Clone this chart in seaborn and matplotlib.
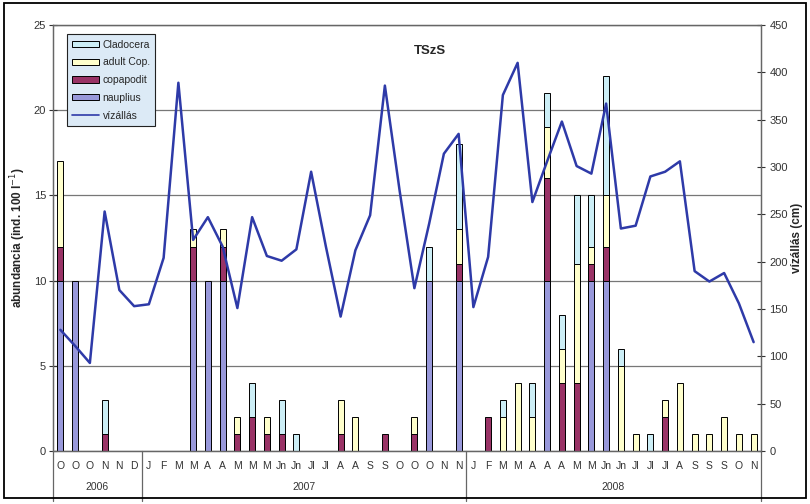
import numpy as np
import pandas as pd
import seaborn as sns
import matplotlib
matplotlib.use("Agg")
import matplotlib.pyplot as plt
from matplotlib.patches import Patch, Rectangle
from matplotlib.lines import Line2D

# ---------------- data ----------------
months_2006 = ["O", "O", "O", "N", "N", "D"]
months_2007 = ["J", "F", "M", "M", "A", "A", "M", "M", "M", "Jn", "Jn", "Jl", "Jl",
               "A", "A", "S", "S", "O", "O", "O", "N", "N"]
months_2008 = ["J", "F", "M", "M", "A", "A", "A", "M", "M", "Jn", "Jn", "Jl", "Jl", "Jl",
               "A", "S", "S", "S", "O", "N"]
years = ["2006", "2007", "2008"]

nauplius = ([10, 10, 0, 0, 0, 0]
            + [0, 0, 0, 10, 10, 10, 0, 0, 0, 0, 0, 0, 0, 0, 0, 0, 0, 0, 0, 10, 0, 10]
            + [0, 0, 0, 0, 0, 10, 0, 0, 10, 10, 0, 0, 0, 0, 0, 0, 0, 0, 0, 0])
copepodit = ([2, 0, 0, 1, 0, 0]
             + [0, 0, 0, 2, 0, 2, 1, 2, 1, 1, 0, 0, 0, 1, 0, 0, 1, 0, 1, 0, 0, 1]
             + [0, 2, 0, 0, 0, 6, 4, 4, 1, 2, 0, 0, 0, 2, 0, 0, 0, 0, 0, 0])
adult_cop = ([5, 0, 0, 0, 0, 0]
             + [0, 0, 0, 1, 0, 1, 1, 0, 1, 0, 0, 0, 0, 2, 2, 0, 0, 0, 1, 0, 0, 2]
             + [0, 0, 2, 4, 2, 3, 2, 7, 1, 3, 5, 1, 0, 1, 4, 1, 1, 2, 1, 1])
cladocera = ([0, 0, 0, 2, 0, 0]
             + [0, 0, 0, 0, 0, 0, 0, 2, 0, 2, 1, 0, 0, 0, 0, 0, 0, 0, 0, 2, 0, 5]
             + [0, 0, 1, 0, 2, 2, 2, 4, 3, 7, 1, 0, 1, 0, 0, 0, 0, 0, 0, 0])
vizallas = ([128, 111, 93, 253, 170, 153]
            + [155, 204, 389, 223, 247, 216, 151, 247, 206, 201, 213, 295, 216, 142,
               212, 249, 386, 275, 172, 240, 314, 335]
            + [152, 205, 376, 410, 263, 306, 348, 301, 293, 367, 235, 238, 290, 295,
               306, 190, 179, 188, 156, 115])

months = months_2006 + months_2007 + months_2008
n = len(months)
idx = np.arange(n)

# ---------------- style ----------------
sns.set_style("white")
plt.rcParams["font.family"] = ["Liberation Sans", "DejaVu Sans"]

c_clad = "#CCEEF6"
c_adult = "#FFFFCC"
c_cope = "#993366"
c_naup = "#9898DA"
c_line = "#2E3AA8"

fig = plt.figure(figsize=(8.1, 5.04), dpi=100)
ax = fig.add_axes([53 / 810, 1 - 451 / 504, (761 - 53) / 810, (451 - 25) / 504])

# stacked bars drawn as cumulative layers (top layer first)
layers = [("Cladocera", cladocera, c_clad),
          ("adult Cop.", adult_cop, c_adult),
          ("copapodit", copepodit, c_cope),
          ("nauplius", nauplius, c_naup)]
stack_order = [nauplius, copepodit, adult_cop, cladocera]
cums = np.cumsum(np.array(stack_order, dtype=float), axis=0)
cum_by_name = {"nauplius": cums[0], "copapodit": cums[1],
               "adult Cop.": cums[2], "Cladocera": cums[3]}

for name, vals, col in layers:
    y = cum_by_name[name].copy()
    y[np.array(vals) == 0] = np.nan
    df = pd.DataFrame({"x": idx, "y": y}).dropna()
    sns.barplot(data=df, x="x", y="y", native_scale=True, color=col,
                saturation=1, edgecolor="black", linewidth=0.7, width=0.42,
                errorbar=None, ax=ax, zorder=2)

ax.set_xlim(-0.5, n - 0.5)
ax.set_ylim(0, 25)
ax.set_yticks(range(0, 26, 5))
ax.set_xticks(idx)
ax.set_xticklabels(months, fontsize=7.5, color="#333333")
ax.tick_params(axis="x", length=0, pad=7)
ax.tick_params(axis="y", direction="inout", length=6, width=0.8,
               labelsize=8, colors="#333333", pad=2)
ax.set_axisbelow(True)
ax.yaxis.grid(True, color="#777777", linewidth=0.9)
ax.xaxis.grid(False)
for s in ax.spines.values():
    s.set_color("#666666")
    s.set_linewidth(0.9)
ax.set_xlabel("")
ax.set_ylabel("abundancia (ind. 100 l$^{-1}$)", fontsize=8.5, fontweight="bold",
              labelpad=4)

# water level line on secondary axis
ax2 = ax.twinx()
sns.lineplot(x=idx, y=vizallas, ax=ax2, color=c_line, linewidth=1.8)
ax2.set_ylim(0, 450)
ax2.set_yticks(range(0, 451, 50))
ax2.set_xlim(-0.5, n - 0.5)
ax2.tick_params(axis="y", direction="inout", length=6, width=0.8,
                labelsize=8, colors="#333333", pad=3)
for s in ax2.spines.values():
    s.set_color("#666666")
    s.set_linewidth(0.9)
ax2.set_ylabel("vízállás (cm)", fontsize=8.5, fontweight="bold", labelpad=2)

# title
ax.text(0.532, 0.94, "TSzS", transform=ax.transAxes, fontsize=9.5,
        fontweight="bold", ha="center", va="center")

# year grouping
trans = ax.get_xaxis_transform()
for xb in [-0.5, 5.5, 27.5, n - 0.5]:
    ax.plot([xb, xb], [0, -0.117], transform=trans, color="#666666",
            lw=0.9, clip_on=False)
groups = [(0, len(months_2006)),
          (len(months_2006), len(months_2006) + len(months_2007)),
          (len(months_2006) + len(months_2007), n)]
for yr, (a, b) in zip(years, groups):
    ax.text((a + b - 1) / 2, -0.085, yr, transform=trans, ha="center",
            va="center", fontsize=7.5, color="#333333")

# legend
handles = [Patch(facecolor=c_clad, edgecolor="black", linewidth=0.7),
           Patch(facecolor=c_adult, edgecolor="black", linewidth=0.7),
           Patch(facecolor=c_cope, edgecolor="black", linewidth=0.7),
           Patch(facecolor=c_naup, edgecolor="black", linewidth=0.7),
           Line2D([0], [0], color=c_line, lw=1.2)]
labels = ["Cladocera", "adult Cop.", "copapodit", "nauplius", "vízállás"]
leg = ax2.legend(handles, labels, loc="upper left", bbox_to_anchor=(0.02, 0.978),
                 frameon=True, fancybox=False, facecolor="#DCEAF6",
                 edgecolor="#222222", fontsize=7.5, handlelength=2.6,
                 handleheight=0.55, labelspacing=0.75, borderpad=0.5,
                 handletextpad=0.3, borderaxespad=0)
leg.get_frame().set_linewidth(0.8)
leg.get_frame().set_alpha(1)

# outer frame
fig.add_artist(Rectangle((4 / 810, 6 / 504), 802 / 810, 495 / 504,
                         transform=fig.transFigure, fill=False,
                         edgecolor="black", lw=1.3))

fig.savefig("out.png", dpi=100)
